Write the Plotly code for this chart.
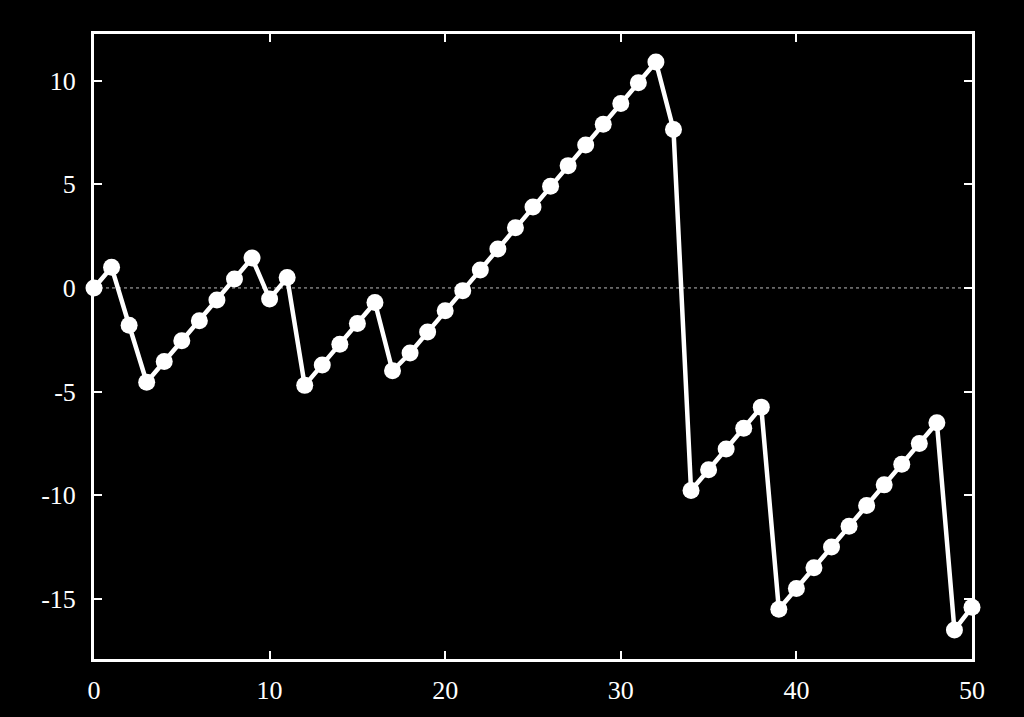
import plotly.graph_objects as go

# 数据
steps = list(range(51))
values = [0.0, 1.0, -1.8, -4.55, -3.55, -2.55, -1.58, -0.58, 0.43, 1.44,
          -0.53, 0.5, -4.7, -3.72, -2.72, -1.72, -0.7, -4.0, -3.14, -2.13,
          -1.1, -0.13, 0.87, 1.88, 2.9, 3.9, 4.9, 5.9, 6.9, 7.9,
          8.9, 9.9, 10.9, 7.64, -9.77, -8.77, -7.77, -6.77, -5.75, -15.5,
          -14.5, -13.5, -12.5, -11.5, -10.5, -9.5, -8.5, -7.5, -6.5, -16.5,
          -15.4]
x_ticks = [0, 10, 20, 30, 40, 50]
y_ticks = [-15, -10, -5, 0, 5, 10]
y_labels = ["-15", "-10", "-5", "0", "5", "10"]

fig = go.Figure(go.Scatter(
    x=steps, y=values,
    mode="lines+markers",
    line=dict(color="white", width=4.5),
    marker=dict(color="white", size=17),
    cliponaxis=False,
    showlegend=False,
))

# 零线（点线）
fig.add_shape(type="line", xref="paper", x0=0, x1=1, yref="y", y0=0, y1=0,
              line=dict(color="#bbbbbb", width=1, dash="dot"), layer="below")

axis_style = dict(
    showgrid=False, zeroline=False,
    showline=True, linecolor="white", linewidth=3, mirror="allticks",
    ticks="inside", ticklen=8, tickwidth=2, tickcolor="white",
    tickfont=dict(family="Liberation Serif", size=26, color="white"),
)

fig.update_layout(
    width=1024, height=717,
    paper_bgcolor="black", plot_bgcolor="black",
    margin=dict(l=94, r=52, t=34, b=58),
    xaxis=dict(range=[0, 50], tickvals=x_ticks, ticklabelstandoff=6, **axis_style),
    yaxis=dict(range=[-17.9, 12.25], tickvals=y_ticks, ticktext=y_labels,
               ticklabelstandoff=10, **axis_style),
)

fig.write_html("out.html", config={"displayModeBar": False},
               post_script="document.body.style.margin='0';"
               "document.body.style.background='black';")
